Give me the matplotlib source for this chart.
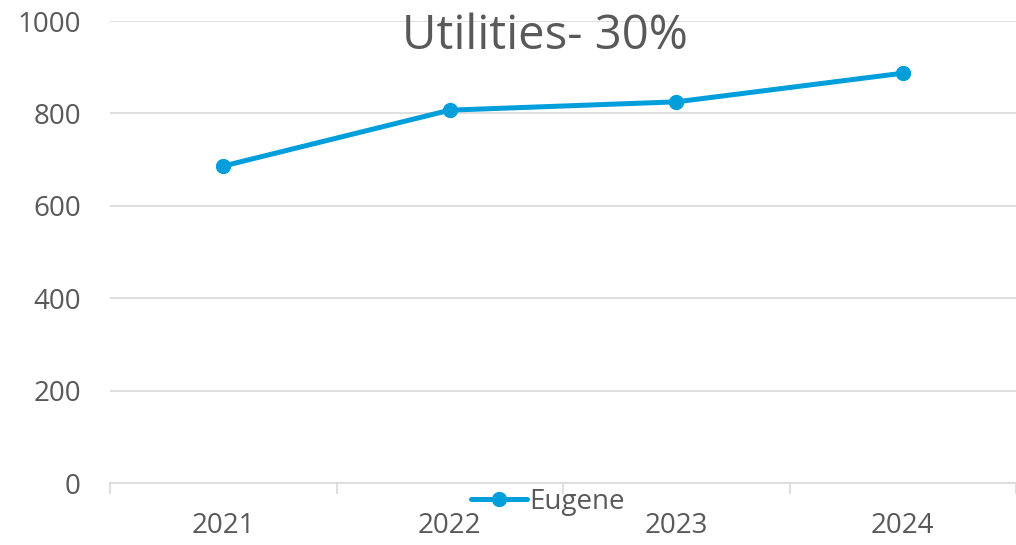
import matplotlib
matplotlib.use("Agg")
import matplotlib.pyplot as plt
from matplotlib.ticker import FixedLocator, NullFormatter

years = ["2021", "2022", "2023", "2024"]
eugene = [686, 807, 825, 887]
yticks = [0, 200, 400, 600, 800, 1000]
title = "Utilities- 30%"

plt.rcParams['font.family'] = ['Open Sans', 'DejaVu Sans']
txt = "#595959"
grid = "#D9D9D9"
blue = "#009FDB"

fig = plt.figure(figsize=(10.16, 5.45), dpi=100)
ax = fig.add_axes([110/1016, 1 - 483/545, 906/1016, (483-21)/545])

x = list(range(len(years)))
ax.plot(x, eugene, color=blue, lw=3.6, marker='o', ms=10, label="Eugene",
        solid_capstyle='round', zorder=3)

ax.set_xlim(-0.5, len(years) - 0.5)
ax.set_ylim(0, 1000)
ax.set_yticks(yticks)
ax.set_yticklabels([str(v) for v in yticks], fontsize=20, color=txt)
ax.tick_params(axis='y', length=0, pad=21)
ax.grid(axis='y', color=grid, lw=1.2)
ax.set_axisbelow(True)

ax.set_xticks(x)
ax.set_xticklabels(years, fontsize=20, color=txt)
ax.tick_params(axis='x', which='major', length=0, pad=21)
ax.xaxis.set_minor_locator(FixedLocator([i - 0.5 for i in range(len(years) + 1)]))
ax.xaxis.set_minor_formatter(NullFormatter())
ax.tick_params(axis='x', which='minor', length=8, color=grid, width=1.2)

for s in ['top', 'right', 'left']:
    ax.spines[s].set_visible(False)
ax.spines['bottom'].set_color(grid)
ax.spines['bottom'].set_linewidth(1.2)

fig.text(545/1016, 1 - 36/545, title, ha='center', va='center', fontsize=34, color=txt)

leg = fig.legend(loc='center', bbox_to_anchor=(548/1016, 1 - 502/545), frameon=False,
                 fontsize=20, handlelength=2.0, handletextpad=0.1, borderpad=0)
for t in leg.get_texts():
    t.set_color(txt)

fig.savefig("out.png", dpi=100)
